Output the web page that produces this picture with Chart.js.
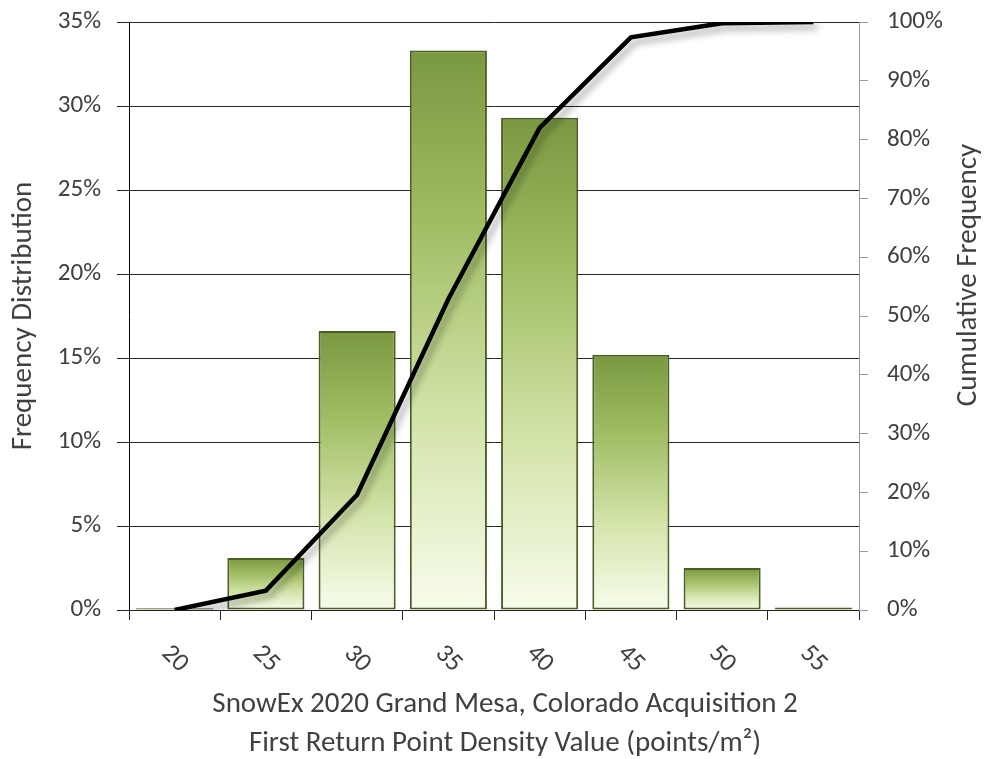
<!DOCTYPE html>
<html>
<head>
<meta charset="utf-8">
<script src="https://cdn.jsdelivr.net/npm/chart.js@4/dist/chart.umd.min.js"></script>
<style>
  html, body { margin: 0; padding: 0; background: #ffffff; }
  #wrap { width: 989px; height: 759px; }
</style>
</head>
<body>
<div id="wrap"><canvas id="chart" width="989" height="759"></canvas></div>
<script>
// Point density bins (points/m²)
const categories = ['20', '25', '30', '35', '40', '45', '50', '55'];
// Share of cells in each bin, percent
const frequency = [0.1, 3.1, 16.6, 33.3, 29.3, 15.2, 2.5, 0.15];
// Running total of the distribution, percent
const cumulative = [0, 3.3, 19.6, 52.9, 82.0, 97.4, 99.8, 100];

const freqTicks = { min: 0, max: 35, step: 5 };
const cumTicks = { min: 0, max: 100, step: 10 };

const xTitleLines = [
  'SnowEx 2020 Grand Mesa, Colorado Acquisition 2',
  'First Return Point Density Value (points/m²)'
];
const leftTitle = 'Frequency Distribution';
const rightTitle = 'Cumulative Frequency';

const FONT = 'Carlito, Lato, sans-serif';
const TEXT_COLOR = '#404040';

// Vertical green gradient, dark at the top of each bar fading to near white at its base
function barFill(ctx) {
  const chart = ctx.chart;
  if (!chart.chartArea || ctx.type !== 'data') return '#9bbb59';
  const y = chart.scales.y;
  const top = y.getPixelForValue(ctx.raw);
  const base = y.getPixelForValue(0);
  if (base - top < 2) return '#7f9d45';
  const g = chart.ctx.createLinearGradient(0, top, 0, base);
  g.addColorStop(0, '#7a9840');
  g.addColorStop(0.3, '#9fbc62');
  g.addColorStop(0.65, '#d2e3a8');
  g.addColorStop(1, '#f8fcec');
  return g;
}

// Soft drop shadow under the cumulative line
const lineShadow = {
  id: 'lineShadow',
  beforeDatasetDraw(chart, args) {
    if (args.index !== 1) return;
    const c = chart.ctx;
    c.save();
    c.shadowColor = 'rgba(0,0,0,0.35)';
    c.shadowBlur = 7;
    c.shadowOffsetX = 4;
    c.shadowOffsetY = 5;
  },
  afterDatasetDraw(chart, args) {
    if (args.index !== 1) return;
    chart.ctx.restore();
  }
};

// Slanted category labels, two-line x title and the right axis title
const axisText = {
  id: 'axisText',
  afterDraw(chart) {
    const c = chart.ctx;
    const x = chart.scales.x;
    c.save();
    c.fillStyle = TEXT_COLOR;
    c.font = '26px ' + FONT;
    c.textAlign = 'center';
    c.textBaseline = 'middle';
    categories.forEach((label, i) => {
      const px = x.getPixelForValue(i);
      c.save();
      c.translate(px, 659);
      c.rotate(Math.PI / 4);
      c.fillText(label, 0, 0);
      c.restore();
    });

    c.font = '29px ' + FONT;
    c.fillText(xTitleLines[0], 505, 705);
    c.fillText(xTitleLines[1], 505, 744);

    c.save();
    c.font = '29px ' + FONT;
    c.translate(969, 275);
    c.rotate(-Math.PI / 2);
    c.fillText(rightTitle, 0, 0);
    c.restore();
    c.restore();
  }
};

// Fixed axis box sizes so the plot area sits at a set place on the canvas
function fixVertical(width) {
  return scale => {
    scale.width = width;
    scale.paddingTop = 0;
    scale.paddingBottom = 0;
  };
}

new Chart(document.getElementById('chart'), {
  data: {
    labels: categories,
    datasets: [
      {
        type: 'bar',
        label: 'Frequency Distribution',
        data: frequency,
        yAxisID: 'y',
        order: 1,
        backgroundColor: barFill,
        borderColor: '#4b5f25',
        borderWidth: 2,
        borderSkipped: false,
        barPercentage: 0.845,
        categoryPercentage: 1.0
      },
      {
        type: 'line',
        label: 'Cumulative Frequency',
        data: cumulative,
        yAxisID: 'y1',
        order: 0,
        borderColor: '#000000',
        borderWidth: 4.5,
        pointRadius: 0,
        tension: 0,
        fill: false
      }
    ]
  },
  options: {
    responsive: false,
    animation: false,
    layout: { padding: { top: 22, left: 0, right: 0, bottom: 0 } },
    plugins: {
      legend: { display: false },
      tooltip: { enabled: false }
    },
    scales: {
      x: {
        type: 'category',
        offset: true,
        grid: {
          offset: true,
          drawOnChartArea: false,
          color: '#222222',
          tickLength: 10
        },
        border: { color: '#222222' },
        ticks: { display: false },
        afterFit(scale) {
          scale.height = 149;
          scale.paddingLeft = 0;
          scale.paddingRight = 0;
        }
      },
      y: {
        position: 'left',
        min: freqTicks.min,
        max: freqTicks.max,
        ticks: {
          stepSize: freqTicks.step,
          color: TEXT_COLOR,
          font: { family: FONT, size: 25 },
          padding: 16,
          callback: v => v + '%'
        },
        grid: { color: '#262626', tickLength: 12 },
        border: { color: '#000000' },
        title: {
          display: true,
          text: leftTitle,
          color: TEXT_COLOR,
          font: { family: FONT, size: 29 },
          padding: { top: 6, bottom: 0 }
        },
        afterFit: fixVertical(129)
      },
      y1: {
        position: 'right',
        min: cumTicks.min,
        max: cumTicks.max,
        ticks: {
          stepSize: cumTicks.step,
          color: TEXT_COLOR,
          font: { family: FONT, size: 25 },
          padding: 19,
          callback: v => v + '%'
        },
        grid: { drawOnChartArea: false, color: '#9a9a9a', tickLength: 9 },
        border: { color: '#9a9a9a' },
        afterFit: fixVertical(130)
      }
    }
  },
  plugins: [lineShadow, axisText]
});
</script>
</body>
</html>
